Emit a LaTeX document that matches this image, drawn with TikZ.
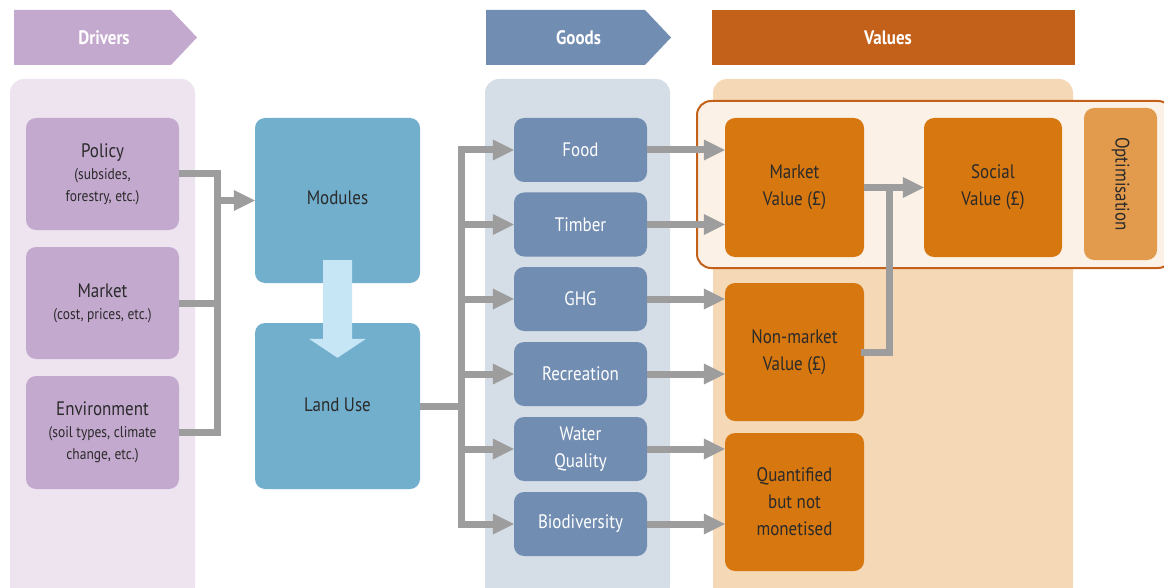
\documentclass[tikz,border=0pt]{standalone}
\usepackage{fontspec}
\setmainfont{PT Sans}[FakeStretch=0.87]
\usetikzlibrary{arrows.meta,calc}
\definecolor{drvC}{HTML}{C4A9CF}
\definecolor{drvP}{HTML}{EDE4F0}
\definecolor{modC}{HTML}{72AFCD}
\definecolor{modA}{HTML}{C6E6F6}
\definecolor{gdC}{HTML}{728DB2}
\definecolor{gdP}{HTML}{D5DDE7}
\definecolor{vlB}{HTML}{C3611A}
\definecolor{vlC}{HTML}{D6770F}
\definecolor{vlP}{HTML}{F5D8B6}
\definecolor{vlO}{HTML}{E29B4C}
\definecolor{vlF}{HTML}{FCF1E7}
\definecolor{txtC}{HTML}{2A2A2A}
\definecolor{conC}{HTML}{9D9D9D}
\begin{document}
\begin{tikzpicture}[x=1pt,y=-1pt,
  box/.style={rounded corners=10pt, inner sep=0pt, align=center, font=\fontsize{19.5}{27}\selectfont},
  drvbox/.style={box, fill=drvC, text=txtC, minimum width=153pt, minimum height=112pt, font=\fontsize{15.5}{22}\selectfont},
  modbox/.style={box, fill=modC, text=txtC, minimum width=165pt, minimum height=165pt},
  gdbox/.style={box, fill=gdC, text=white, minimum width=133pt, minimum height=64pt},
  vlbox/.style={box, fill=vlC, text=txtC, minimum width=139pt, minimum height=138pt},
  panel/.style={rounded corners=14pt},
  bantext/.style={text=white, font=\fontsize{19.5}{22}\selectfont\bfseries},
  gline/.style={draw=conC, line width=7pt, line join=miter},
  garrow/.style={gline, -{Triangle[length=21pt,width=21pt,line width=0pt]}}
]
\clip (0,0) rectangle (1164,588);
\fill[white] (0,0) rectangle (1164,588);

% panels
\fill[drvP, panel] (10,79) rectangle (195,600);
\fill[gdP, panel] (485,79) rectangle (670,600);
\fill[vlP, panel] (713,79) rectangle (1073,600);

% banners
\fill[drvC] (14,10) -- (171,10) -- (197,37.5) -- (171,65) -- (14,65) -- cycle;
\node[bantext] (bdrv) at (104,37.5) {Drivers};
\fill[gdC] (486,10) -- (645,10) -- (671,37.5) -- (645,65) -- (486,65) -- cycle;
\node[bantext] (bgds) at (578.5,37.5) {Goods};
\fill[vlB] (712,10) rectangle (1075,65);
\node[bantext] (bval) at (888,37.5) {Values};

% optimisation frame
\filldraw[fill=vlF, draw=vlB, line width=2pt, rounded corners=14pt] (697,101) rectangle (1172,268);

% drivers
\node[drvbox] (policy) at (102.5,174) {{\fontsize{19.5}{22}\selectfont Policy}\\(subsides,\\forestry, etc.)};
\node[drvbox] (market) at (102.5,303) {{\fontsize{19.5}{22}\selectfont Market}\\(cost, prices, etc.)};
\node[drvbox, minimum height=113pt] (env) at (102.5,432.5) {{\fontsize{19.5}{22}\selectfont Environment}\\(soil types, climate\\change, etc.)};

% modules
\node[modbox] (modules) at (337.5,200.5) {\raisebox{6pt}{Modules}};
\node[modbox, minimum height=166pt] (landuse) at (337.5,406) {\raisebox{2pt}{Land Use}};

% goods
\node[gdbox] (food) at (580.5,150) {Food};
\node[gdbox] (timber) at (580.5,224.5) {Timber};
\node[gdbox] (ghg) at (580.5,299) {GHG};
\node[gdbox] (rec) at (580.5,374) {Recreation};
\node[gdbox] (water) at (580.5,449) {Water\\Quality};
\node[gdbox] (bio) at (580.5,524) {Biodiversity};

% values
\node[vlbox, minimum height=139pt] (mv) at (794.5,187.5) {Market\\Value (£)};
\node[vlbox, minimum width=138pt, minimum height=139pt] (sv) at (993,187.5) {Social\\Value (£)};
\node[vlbox] (nm) at (794.5,352) {Non-market\\Value (£)};
\node[vlbox] (qt) at (794.5,502) {Quantified\\but not\\monetised};
\node[box, fill=vlO, text=txtC, minimum width=73pt, minimum height=152pt] (opt) at (1120.5,184) {};
\node[text=txtC, font=\fontsize{19.5}{22}\selectfont, rotate=-90] (optl) at (opt.center) {Optimisation};

% drivers connectors
\coordinate (dbus) at (217,0);
\draw[gline] (policy.east) -| (dbus |- env.east) -- (env.east);
\draw[gline] (market.east) -- (dbus |- market.east);
\draw[garrow] (dbus |- modules.west) -- (modules.west);

% modules -> land use
\fill[modA] ($(modules.south)+(-14.5,-23)$) -- ($(modules.south)+(14.5,-23)$)
  -- ($(landuse.north)+(14.5,16)$) -- ($(landuse.north)+(28.5,16)$)
  -- ($(landuse.north)+(0,35)$) -- ($(landuse.north)+(-28.5,16)$)
  -- ($(landuse.north)+(-14.5,16)$) -- cycle;

% land use -> goods
\coordinate (gbus) at (461,0);
\draw[gline] (landuse.east) -- (gbus |- landuse.east);
\draw[gline, line cap=rect] (gbus |- food.west) -- (gbus |- bio.west);
\foreach \n in {food,timber,ghg,rec,water,bio}
  \draw[garrow] (gbus |- \n.west) -- (\n.west);

% goods -> values
\draw[garrow] (food.east) -- (mv.west |- food.east);
\draw[garrow] (timber.east) -- (mv.west |- timber.east);
\draw[garrow] (ghg.east) -- (nm.west |- ghg.east);
\draw[garrow] (rec.east) -- (nm.west |- rec.east);
\draw[garrow] (water.east) -- (qt.west |- water.east);
\draw[garrow] (bio.east) -- (qt.west |- bio.east);

% values -> social
\coordinate (vbus) at (889,0);
\draw[gline, line cap=rect] (nm.east) -| (vbus |- mv.east);
\draw[garrow] (mv.east) -- (sv.west);
\end{tikzpicture}
\end{document}
